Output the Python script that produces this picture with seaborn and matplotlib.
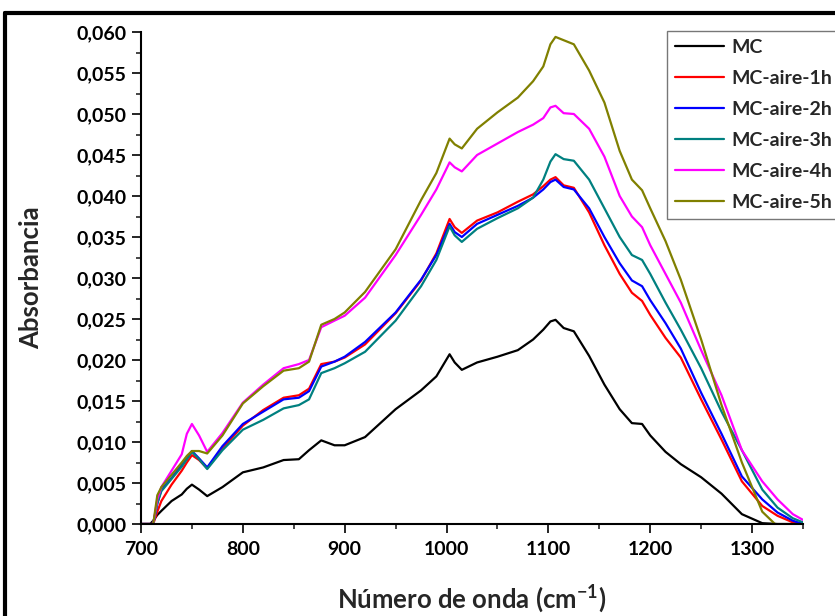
import numpy as np
import pandas as pd
import matplotlib
matplotlib.use("Agg")
import matplotlib.pyplot as plt
from matplotlib.ticker import MultipleLocator, FuncFormatter
from matplotlib.lines import Line2D
import seaborn as sns

# ---- data ----
wavenumber = [700, 709, 712, 716, 720, 730, 740, 745, 750, 757, 765, 780, 800, 820, 840,
              855, 865, 877, 890, 900, 920, 950, 975, 990, 1003, 1008, 1015, 1030, 1050,
              1070, 1085, 1095, 1102, 1107, 1115, 1125, 1140, 1155, 1170, 1182, 1192, 1200,
              1215, 1230, 1250, 1270, 1290, 1310, 1325, 1340, 1350]

mc = [0, 0, 0.0004, 0.0011, 0.0016, 0.0028, 0.0036, 0.0043, 0.0048, 0.0042, 0.0034, 0.0045,
      0.0063, 0.0069, 0.0078, 0.0079, 0.0090, 0.0102, 0.0096, 0.0096, 0.0106, 0.0140, 0.0163,
      0.0180, 0.0207, 0.0197, 0.0188, 0.0197, 0.0204, 0.0212, 0.0225, 0.0237, 0.0247, 0.0249,
      0.0239, 0.0235, 0.0205, 0.0170, 0.0140, 0.0123, 0.0122, 0.0108, 0.0088, 0.0073, 0.0057,
      0.0037, 0.0012, 0.0001, 0.0, 0.0, 0.0]

mc_1h = [0, 0, 0, 0.0015, 0.0028, 0.0048, 0.0065, 0.0075, 0.0084, 0.0078, 0.0068, 0.0092,
         0.0120, 0.0139, 0.0154, 0.0157, 0.0165, 0.0195, 0.0198, 0.0203, 0.0219, 0.0257, 0.0297,
         0.0330, 0.0372, 0.0362, 0.0355, 0.0370, 0.0380, 0.0393, 0.0402, 0.0412, 0.0420, 0.0423,
         0.0413, 0.0410, 0.0380, 0.0340, 0.0305, 0.0282, 0.0272, 0.0255, 0.0227, 0.0203, 0.0152,
         0.0103, 0.0052, 0.0022, 0.0010, 0.0002, 0.0]

mc_2h = [0, 0, 0, 0.0025, 0.0042, 0.0056, 0.0072, 0.0080, 0.0089, 0.0080, 0.0069, 0.0095,
         0.0122, 0.0137, 0.0152, 0.0154, 0.0162, 0.0192, 0.0198, 0.0204, 0.0222, 0.0258, 0.0298,
         0.0328, 0.0366, 0.0356, 0.0350, 0.0366, 0.0377, 0.0388, 0.0398, 0.0408, 0.0417, 0.0420,
         0.0411, 0.0408, 0.0385, 0.0350, 0.0318, 0.0297, 0.0290, 0.0273, 0.0245, 0.0214, 0.0160,
         0.0110, 0.0058, 0.0030, 0.0014, 0.0004, 0.0]

mc_3h = [0, 0, 0, 0.0025, 0.0040, 0.0055, 0.0070, 0.0079, 0.0088, 0.0079, 0.0067, 0.0090,
         0.0115, 0.0127, 0.0141, 0.0145, 0.0152, 0.0184, 0.0190, 0.0196, 0.0210, 0.0248, 0.0290,
         0.0322, 0.0363, 0.0352, 0.0344, 0.0360, 0.0373, 0.0385, 0.0398, 0.0420, 0.0442, 0.0451,
         0.0445, 0.0443, 0.0420, 0.0385, 0.0350, 0.0328, 0.0322, 0.0305, 0.0270, 0.0237, 0.0190,
         0.0137, 0.0090, 0.0042, 0.0020, 0.0007, 0.0002]

mc_4h = [0, 0, 0, 0.0030, 0.0045, 0.0065, 0.0085, 0.0110, 0.0122, 0.0108, 0.0088, 0.0111,
         0.0148, 0.0170, 0.0190, 0.0195, 0.0200, 0.0240, 0.0248, 0.0254, 0.0276, 0.0328, 0.0377,
         0.0408, 0.0441, 0.0435, 0.0430, 0.0450, 0.0464, 0.0478, 0.0487, 0.0495, 0.0508, 0.0510,
         0.0501, 0.0500, 0.0482, 0.0448, 0.0400, 0.0375, 0.0362, 0.0340, 0.0305, 0.0270, 0.0212,
         0.0157, 0.0090, 0.0052, 0.0030, 0.0012, 0.0005]

mc_5h = [0, 0, 0, 0.0035, 0.0045, 0.0060, 0.0075, 0.0083, 0.0089, 0.0089, 0.0086, 0.0108,
         0.0147, 0.0168, 0.0187, 0.0190, 0.0198, 0.0243, 0.0250, 0.0258, 0.0283, 0.0335, 0.0395,
         0.0428, 0.0470, 0.0463, 0.0458, 0.0482, 0.0502, 0.0520, 0.0540, 0.0558, 0.0585, 0.0594,
         0.0590, 0.0585, 0.0553, 0.0514, 0.0455, 0.0420, 0.0407, 0.0385, 0.0345, 0.0298, 0.0225,
         0.0145, 0.0075, 0.0015, -0.0003, -0.0020, -0.0030]

series_names = ["MC", "MC-aire-1h", "MC-aire-2h", "MC-aire-3h", "MC-aire-4h", "MC-aire-5h"]
series_values = [mc, mc_1h, mc_2h, mc_3h, mc_4h, mc_5h]
colors = ["#000000", "#FF0000", "#0000FF", "#008080", "#FF00FF", "#808000"]

x_ticks = [700, 800, 900, 1000, 1100, 1200, 1300]

# ---- long-form table ----
frames = []
for name, vals in zip(series_names, series_values):
    frames.append(pd.DataFrame({"wn": wavenumber, "abs": vals, "serie": name}))
df = pd.concat(frames, ignore_index=True)

sns.set_style("ticks")
plt.rcParams["font.family"] = ["Lato", "DejaVu Sans"]
plt.rcParams["font.weight"] = "bold"
plt.rcParams["mathtext.fontset"] = "custom"
plt.rcParams["mathtext.rm"] = "Lato:bold"
plt.rcParams["mathtext.bf"] = "Lato:bold"
plt.rcParams["mathtext.default"] = "bf"

W, H = 835, 616
fig = plt.figure(figsize=(W / 100, H / 100), dpi=100)
ax = fig.add_axes([141 / W, 1 - 524 / H, (803 - 141) / W, (524 - 32) / H])

sns.lineplot(data=df, x="wn", y="abs", hue="serie", hue_order=series_names,
             palette=colors, linewidth=1.6, ax=ax, legend=False, errorbar=None,
             estimator=None, sort=True)

ax.set_xlim(700, 1350)
ax.set_ylim(0, 0.060)
ax.set_xticks(x_ticks)
ax.xaxis.set_minor_locator(MultipleLocator(50))
ax.yaxis.set_major_locator(MultipleLocator(0.005))
ax.yaxis.set_minor_locator(MultipleLocator(0.0025))
ax.yaxis.set_major_formatter(FuncFormatter(lambda v, p: f"{v:.3f}".replace(".", ",")))

for s in ["top", "right"]:
    ax.spines[s].set_visible(False)
for s in ["left", "bottom"]:
    ax.spines[s].set_linewidth(1.5)
    ax.spines[s].set_color("black")

ax.tick_params(axis="both", which="major", direction="out", length=6.5, width=1.2,
               labelsize=14, pad=4, colors="black")
ax.tick_params(axis="both", which="minor", direction="out", length=3.5, width=1.2)
ax.tick_params(axis="x", which="major", pad=6)
for lab in ax.get_xticklabels() + ax.get_yticklabels():
    lab.set_fontweight("bold")

ax.set_xlabel(r"Número de onda (cm$^{-1}$)", fontsize=18.5, fontweight="bold", labelpad=18)
ax.set_ylabel("Absorbancia", fontsize=18.5, fontweight="bold", labelpad=24)

handles = [Line2D([0], [0], color=c, lw=1.6) for c in colors]
leg = fig.legend(handles, series_names, loc="upper left",
                 bbox_to_anchor=(667 / W, 1 - 31 / H), bbox_transform=fig.transFigure,
                 prop={"family": ["Lato", "DejaVu Sans"], "weight": "bold", "size": 14},
                 frameon=True, fancybox=False, handlelength=2.55, handletextpad=0.35,
                 labelspacing=0.72, borderpad=0.4, borderaxespad=0)
leg.get_frame().set_edgecolor("#555555")
leg.get_frame().set_linewidth(1.0)

# figure frame (top and left visible)
fig.add_artist(Line2D([5 / W, 1.0], [1 - 13 / H, 1 - 13 / H], color="black", lw=3,
                      transform=fig.transFigure))
fig.add_artist(Line2D([5 / W, 5 / W], [0.0, 1 - 13 / H], color="black", lw=3,
                      transform=fig.transFigure))

fig.savefig("out.png", dpi=100)
